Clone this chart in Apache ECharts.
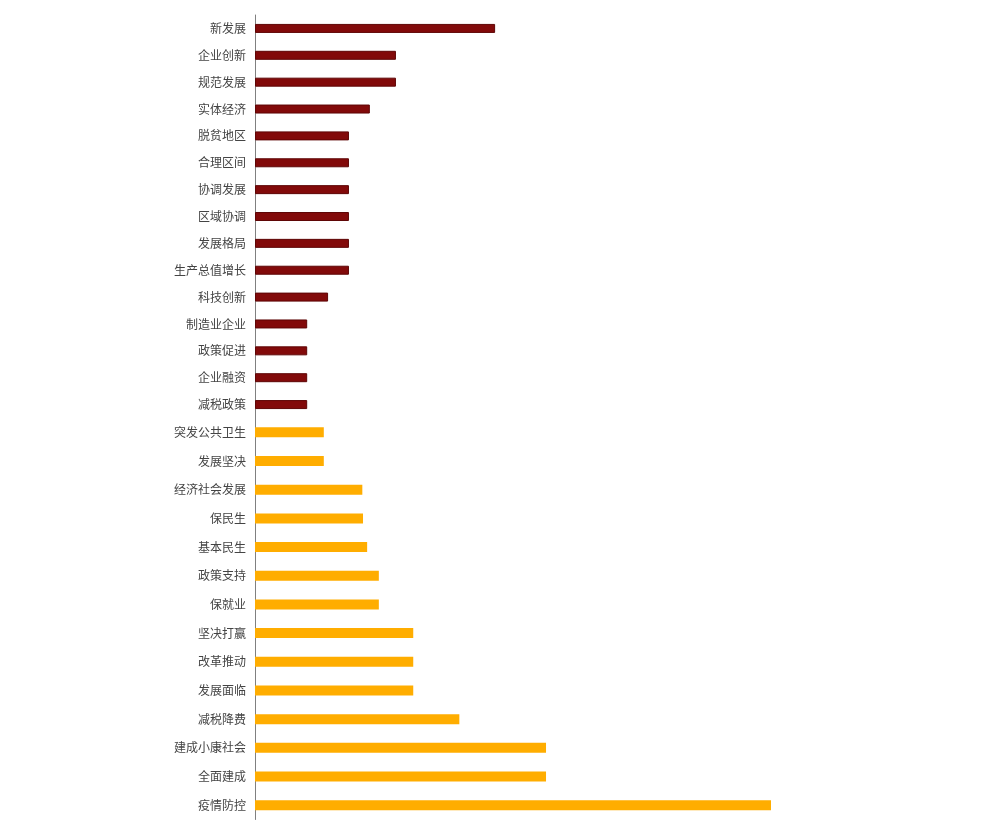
<!DOCTYPE html>
<html>
<head>
<meta charset="utf-8">
<script src="https://cdn.jsdelivr.net/npm/echarts@6/dist/echarts.min.js"></script>
<style>
html,body{margin:0;padding:0;background:#fff;}
#c{width:992px;height:822px;}
</style>
</head>
<body>
<div id="c"></div>
<script>
// Top group (dark red)
var topCategories = ['新发展','企业创新','规范发展','实体经济','脱贫地区','合理区间','协调发展','区域协调','发展格局','生产总值增长','科技创新','制造业企业','政策促进','企业融资','减税政策'];
var topValues = [46, 27, 27, 22, 18, 18, 18, 18, 18, 18, 14, 10, 10, 10, 10];

// Bottom group (orange)
var bottomCategories = ['突发公共卫生','发展坚决','经济社会发展','保民生','基本民生','政策支持','保就业','坚决打赢','改革推动','发展面临','减税降费','建成小康社会','全面建成','疫情防控'];
var bottomValues = [10.0, 10.0, 15.6, 15.7, 16.3, 18.0, 18.0, 23.0, 23.0, 23.0, 29.7, 42.3, 42.3, 75.0];

var chart = echarts.init(document.getElementById('c'));
var labelStyle = {color:'#444', fontSize:12, fontFamily:'"Noto Sans CJK SC", sans-serif', margin:9};
var axisLine = {show:true, lineStyle:{color:'#808080', width:1}};
chart.setOption({
  animation:false,
  backgroundColor:'#fff',
  grid:[
    {left:255, top:15, width:522, height:403, containLabel:false},
    {left:255, top:418, width:688, height:401.5, containLabel:false}
  ],
  xAxis:[
    {gridIndex:0, type:'value', min:0, max:100, show:false},
    {gridIndex:1, type:'value', min:0, max:100, show:false}
  ],
  yAxis:[
    {gridIndex:0, type:'category', data:topCategories, inverse:true,
     axisLine:axisLine, axisTick:{show:false}, axisLabel:labelStyle, splitLine:{show:false}},
    {gridIndex:1, type:'category', data:bottomCategories, inverse:true,
     axisLine:axisLine, axisTick:{show:false}, axisLabel:labelStyle, splitLine:{show:false}}
  ],
  series:[
    {type:'bar', xAxisIndex:0, yAxisIndex:0, data:topValues, barWidth:9,
     itemStyle:{color:'#820a0a', borderColor:'#5e0606', borderWidth:1}},
    {type:'bar', xAxisIndex:1, yAxisIndex:1, data:bottomValues, barWidth:10,
     itemStyle:{color:'#ffad00'}}
  ]
});
</script>
</body>
</html>
